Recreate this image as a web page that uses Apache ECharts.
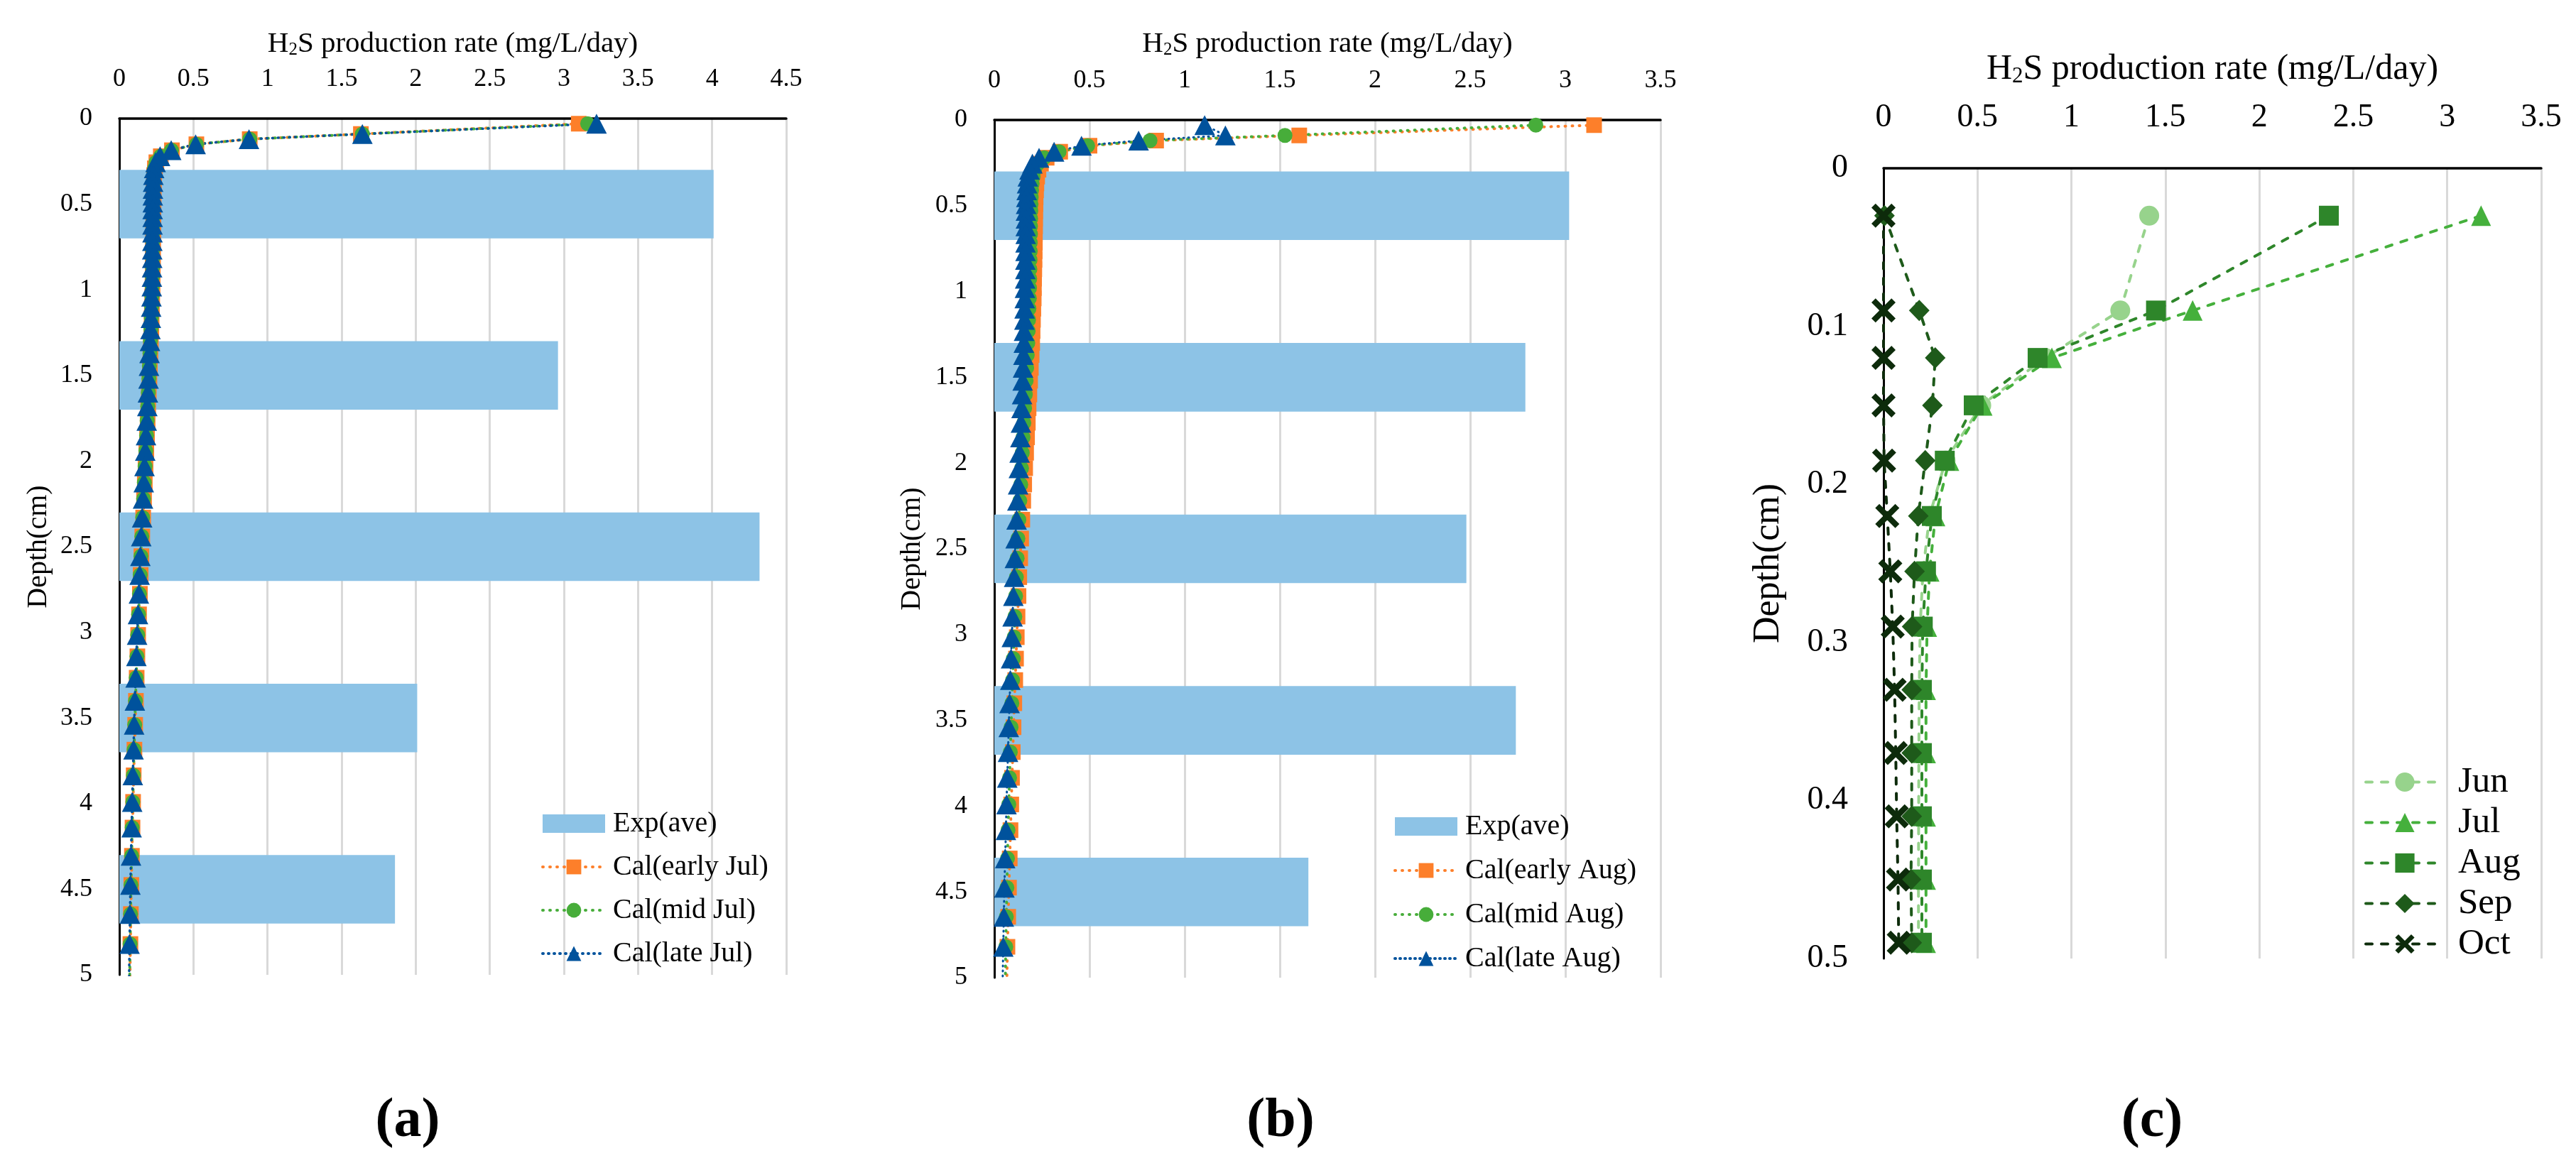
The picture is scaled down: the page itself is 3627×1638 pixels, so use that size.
<!DOCTYPE html>
<html>
<head>
<meta charset="utf-8">
<script src="https://cdn.jsdelivr.net/npm/echarts@6/dist/echarts.min.js"></script>
<style>
html,body{margin:0;padding:0;background:#fff;}
#chart{width:3627px;height:1638px;}
</style>
</head>
<body>
<div id="chart"></div>
<script>
// ---------- data ----------
const X_TICKS_A = [0, 4.5, 0.5];   // min, max, interval
const X_TICKS_BC = [0, 3.5, 0.5];
const EXP_DEPTH = ['0.5', '1.5', '2.5', '3.5', '4.5'];
const EXP_A = [4.01, 2.96, 4.32, 2.01, 1.86];
const EXP_B = [3.02, 2.79, 2.48, 2.74, 1.65];

const DEPTH_AB = [0.03, 0.09, 0.12, 0.15, 0.185, 0.22, 0.255, 0.29, 0.33, 0.37,
  0.41, 0.45, 0.49, 0.53, 0.575, 0.62, 0.665, 0.715, 0.765, 0.815,
  0.87, 0.925, 0.98, 1.04, 1.1, 1.165, 1.23, 1.3, 1.37, 1.445,
  1.52, 1.6, 1.68, 1.765, 1.85, 1.94, 2.03, 2.125, 2.22, 2.33,
  2.44, 2.555, 2.665, 2.775, 2.895, 3.015, 3.14, 3.265, 3.4, 3.54,
  3.685, 3.835, 3.99, 4.14, 4.305, 4.475, 4.645, 4.82, 5.01];

const JUL_EARLY = [3.10, 1.63, 0.88, 0.52, 0.355, 0.28, 0.25, 0.24, 0.235, 0.233,
  0.232, 0.231, 0.231, 0.23, 0.23, 0.229, 0.229, 0.228, 0.227, 0.227,
  0.226, 0.225, 0.224, 0.222, 0.22, 0.218, 0.216, 0.213, 0.21, 0.206,
  0.203, 0.199, 0.195, 0.191, 0.187, 0.182, 0.177, 0.172, 0.167, 0.161,
  0.155, 0.149, 0.144, 0.139, 0.133, 0.127, 0.122, 0.117, 0.112, 0.107,
  0.102, 0.097, 0.093, 0.089, 0.085, 0.081, 0.078, 0.075, 0.072];
const JUL_MID = [3.16, 1.64, 0.88, 0.52, 0.352, 0.278, 0.248, 0.238, 0.233, 0.231,
  0.23, 0.229, 0.229, 0.228, 0.228, 0.227, 0.227, 0.226, 0.225, 0.225,
  0.224, 0.223, 0.222, 0.22, 0.218, 0.216, 0.213, 0.21, 0.207, 0.203,
  0.2, 0.196, 0.192, 0.188, 0.184, 0.179, 0.174, 0.169, 0.164, 0.158,
  0.152, 0.146, 0.141, 0.136, 0.13, 0.124, 0.119, 0.114, 0.109, 0.104,
  0.1, 0.095, 0.091, 0.087, 0.083, 0.079, 0.076, 0.073, 0.07];
const JUL_LATE = [3.22, 1.64, 0.875, 0.515, 0.35, 0.275, 0.245, 0.235, 0.23, 0.228,
  0.227, 0.226, 0.226, 0.225, 0.225, 0.224, 0.224, 0.223, 0.222, 0.222,
  0.221, 0.22, 0.219, 0.217, 0.215, 0.213, 0.21, 0.207, 0.204, 0.2,
  0.197, 0.193, 0.189, 0.185, 0.18, 0.175, 0.17, 0.165, 0.16, 0.154,
  0.148, 0.142, 0.137, 0.132, 0.126, 0.12, 0.115, 0.11, 0.105, 0.1,
  0.096, 0.091, 0.087, 0.083, 0.079, 0.075, 0.072, 0.069, 0.066];

const AUG_EARLY = [3.151, 1.602, 0.85, 0.5, 0.346, 0.275, 0.245, 0.232, 0.225, 0.221,
  0.219, 0.217, 0.216, 0.215, 0.214, 0.214, 0.213, 0.213, 0.212, 0.211,
  0.21, 0.209, 0.208, 0.207, 0.205, 0.203, 0.201, 0.199, 0.196, 0.192,
  0.188, 0.184, 0.18, 0.176, 0.172, 0.167, 0.162, 0.157, 0.152, 0.147,
  0.141, 0.136, 0.131, 0.127, 0.122, 0.118, 0.114, 0.11, 0.105, 0.101,
  0.097, 0.093, 0.089, 0.085, 0.081, 0.077, 0.073, 0.069, 0.066];
const AUG_MID = [2.845, 1.527, 0.818, 0.49, 0.34, 0.262, 0.228, 0.212, 0.204, 0.199,
  0.196, 0.194, 0.193, 0.192, 0.191, 0.19, 0.19, 0.189, 0.189, 0.188,
  0.187, 0.186, 0.185, 0.184, 0.182, 0.18, 0.178, 0.176, 0.173, 0.17,
  0.167, 0.163, 0.159, 0.155, 0.151, 0.147, 0.143, 0.139, 0.134, 0.129,
  0.124, 0.12, 0.116, 0.112, 0.108, 0.104, 0.1, 0.096, 0.092, 0.088,
  0.084, 0.08, 0.076, 0.072, 0.069, 0.066, 0.063, 0.06, 0.058];
const AUG_LATE = [1.105, 1.214, 0.758, 0.458, 0.314, 0.235, 0.2, 0.185, 0.176, 0.172,
  0.17, 0.168, 0.167, 0.166, 0.166, 0.165, 0.165, 0.164, 0.164, 0.163,
  0.163, 0.162, 0.161, 0.16, 0.159, 0.158, 0.156, 0.155, 0.153, 0.151,
  0.149, 0.146, 0.143, 0.14, 0.137, 0.133, 0.129, 0.125, 0.121, 0.117,
  0.112, 0.108, 0.104, 0.1, 0.096, 0.092, 0.088, 0.084, 0.08, 0.076,
  0.072, 0.068, 0.064, 0.061, 0.057, 0.053, 0.05, 0.047, 0.044];

const DEPTH_C = [0.03, 0.09, 0.12, 0.15, 0.185, 0.22, 0.255, 0.29, 0.33, 0.37, 0.41, 0.45, 0.49];
const C_JUN = [1.414, 1.26, 0.86, 0.52, 0.33, 0.245, 0.21, 0.195, 0.19, 0.188, 0.187, 0.186, 0.186];
const C_JUL = [3.18, 1.645, 0.896, 0.527, 0.35, 0.276, 0.245, 0.232, 0.226, 0.226, 0.226, 0.226, 0.226];
const C_AUG = [2.37, 1.45, 0.82, 0.48, 0.326, 0.257, 0.226, 0.209, 0.204, 0.204, 0.204, 0.204, 0.204];
const C_SEP = [0.005, 0.19, 0.275, 0.26, 0.222, 0.185, 0.165, 0.152, 0.15, 0.15, 0.15, 0.146, 0.15];
const C_OCT = [0, 0, 0, 0, 0.003, 0.02, 0.036, 0.049, 0.059, 0.065, 0.07, 0.077, 0.081];

const NAMES_A = ['Exp(ave)', 'Cal(early Jul)', 'Cal(mid Jul)', 'Cal(late Jul)'];
const NAMES_B = ['Exp(ave)', 'Cal(early Aug)', 'Cal(mid Aug)', 'Cal(late Aug)'];
const NAMES_C = ['Jun', 'Jul', 'Aug', 'Sep', 'Oct'];
const X_TITLE = 'H{sub|2}S production rate (mg/L/day)';
const Y_TITLE = 'Depth(cm)';
const PANEL_LABELS = ['(a)', '(b)', '(c)'];

// ---------- styling ----------
const FONT = 'Liberation Serif';
const C_BAR = '#8dc3e6', C_OR = '#fd7f2a', C_GR = '#47ad3a', C_BL = '#00529c';
const GREENS = ['#97d38c', '#45b03c', '#2e862a', '#1e5a1a', '#0d2b0b'];
const XMARK = 'path://M0,17 L17,0 L50,33 L83,0 L100,17 L67,50 L100,83 L83,100 L50,67 L17,100 L0,83 L33,50 Z';

function pairs(xs, ys) { return xs.map((v, i) => [v, ys[i]]); }

function xAxisCfg(grid, ticks, fs, margin, nfs, ngap) {
  return {
    gridIndex: grid, type: 'value', position: 'top',
    min: ticks[0], max: ticks[1], interval: ticks[2],
    axisLine: { show: true, onZero: false, lineStyle: { color: '#000', width: 3.5 } },
    axisTick: { show: false },
    splitLine: { show: true, lineStyle: { color: '#d9d9d9', width: 3 } },
    axisLabel: { fontFamily: FONT, fontSize: fs, color: '#000', margin: margin },
    name: X_TITLE, nameLocation: 'middle', nameGap: ngap,
    nameTextStyle: { fontFamily: FONT, fontSize: nfs, color: '#000',
      rich: { sub: { fontFamily: FONT, fontSize: Math.round(nfs * 0.62), color: '#000', verticalAlign: 'bottom', padding: [0, 0, 0, 0] } } }
  };
}
function yAxisCfg(grid, max, interval, fs, margin, nfs, ngap) {
  return {
    gridIndex: grid, type: 'value', inverse: true, min: 0, max: max, interval: interval,
    axisLine: { show: true, onZero: false, lineStyle: { color: '#000', width: 3 } },
    axisTick: { show: false }, splitLine: { show: false },
    axisLabel: { fontFamily: FONT, fontSize: fs, color: '#000', margin: margin },
    name: Y_TITLE, nameLocation: 'middle', nameGap: ngap, nameRotate: 90,
    nameTextStyle: { fontFamily: FONT, fontSize: nfs, color: '#000' }
  };
}
function catAxis(grid) {
  return { gridIndex: grid, type: 'category', inverse: true, data: EXP_DEPTH, show: false, boundaryGap: true };
}
function dotted(name, xi, yi, vals, depth, color, symbol, size, w, dash) {
  return {
    name: name, type: 'line', xAxisIndex: xi, yAxisIndex: yi, data: pairs(vals, depth),
    symbol: symbol, symbolSize: size, showAllSymbol: true, z: 3,
    itemStyle: { color: color },
    lineStyle: { color: color, width: w, type: dash, cap: 'round' },
    emphasis: { disabled: true }
  };
}
function dashed(name, vals, color, symbol, size) {
  return {
    name: name, type: 'line', xAxisIndex: 2, yAxisIndex: 4, data: pairs(vals, DEPTH_C),
    symbol: symbol, symbolSize: size, showAllSymbol: true, z: 3,
    itemStyle: { color: color },
    lineStyle: { color: color, width: 4, type: [9, 13], cap: 'round' },
    emphasis: { disabled: true }
  };
}
function legendCfg(names, left, top, fs, iw, ih, gap, pad, lw) {
  return {
    orient: 'vertical', left: left, top: top, padding: 0, itemGap: gap,
    itemWidth: iw, itemHeight: ih, selectedMode: false,
    lineStyle: { width: lw, type: 'inherit', color: 'inherit', cap: 'round' },
    data: names.map(n => (n === 'Exp(ave)' ? { name: n, icon: 'rect' } : n)),
    textStyle: { fontFamily: FONT, fontSize: fs, color: '#000', lineHeight: fs, padding: [0, 0, 0, pad] }
  };
}

const option = {
  animation: false,
  backgroundColor: '#fff',
  grid: [
    { left: 168, top: 167, width: 939, height: 1206 },
    { left: 1400, top: 169, width: 938, height: 1208 },
    { left: 2652, top: 237, width: 926, height: 1113 }
  ],
  xAxis: [
    xAxisCfg(0, X_TICKS_A, 36, 37, 41, 84),
    xAxisCfg(1, X_TICKS_BC, 36, 37, 41, 86),
    xAxisCfg(2, X_TICKS_BC, 46, 48, 50, 114)
  ],
  yAxis: [
    yAxisCfg(0, 5, 0.5, 36, 38, 40, 94),
    catAxis(0),
    yAxisCfg(1, 5, 0.5, 36, 38, 40, 96),
    catAxis(1),
    yAxisCfg(2, 0.5, 0.1, 46, 50, 52, 136)
  ],
  legend: [
    legendCfg(NAMES_A, 762, 1140, 40, 88, 26, 21, 6, 4),
    legendCfg(NAMES_B, 1962, 1144, 40, 88, 26, 22, 6, 4),
    legendCfg(NAMES_C, 3329, 1076, 51, 110, 34, 6, 15, 4)
  ],
  series: [
    { name: NAMES_A[0], type: 'bar', xAxisIndex: 0, yAxisIndex: 1, data: EXP_A, barWidth: '40%', z: 1,
      itemStyle: { color: C_BAR }, emphasis: { disabled: true } },
    dotted(NAMES_A[1], 0, 0, JUL_EARLY, DEPTH_AB, C_OR, 'rect', 22, 4, [1, 9]),
    dotted(NAMES_A[2], 0, 0, JUL_MID, DEPTH_AB, C_GR, 'circle', 21, 4, [1, 9]),
    dotted(NAMES_A[3], 0, 0, JUL_LATE, DEPTH_AB, C_BL, 'triangle', [29, 28], 3.5, [1, 7]),
    { name: NAMES_B[0], type: 'bar', xAxisIndex: 1, yAxisIndex: 3, data: EXP_B, barWidth: '40%', z: 1,
      itemStyle: { color: C_BAR }, emphasis: { disabled: true } },
    dotted(NAMES_B[1], 1, 2, AUG_EARLY, DEPTH_AB, C_OR, 'rect', 22, 4, [1, 9]),
    dotted(NAMES_B[2], 1, 2, AUG_MID, DEPTH_AB, C_GR, 'circle', 21, 4, [1, 9]),
    dotted(NAMES_B[3], 1, 2, AUG_LATE, DEPTH_AB, C_BL, 'triangle', [29, 28], 3, [1, 6]),
    dashed(NAMES_C[0], C_JUN, GREENS[0], 'circle', 28),
    dashed(NAMES_C[1], C_JUL, GREENS[1], 'triangle', [28, 29]),
    dashed(NAMES_C[2], C_AUG, GREENS[2], 'rect', 28),
    dashed(NAMES_C[3], C_SEP, GREENS[3], 'diamond', [29, 30]),
    dashed(NAMES_C[4], C_OCT, GREENS[4], XMARK, 34)
  ],
  graphic: [
    { type: 'text', x: 574, y: 1580, style: { text: PANEL_LABELS[0], font: 'bold 78px "Liberation Serif"', fill: '#000', align: 'center', verticalAlign: 'middle' } },
    { type: 'text', x: 1803, y: 1580, style: { text: PANEL_LABELS[1], font: 'bold 78px "Liberation Serif"', fill: '#000', align: 'center', verticalAlign: 'middle' } },
    { type: 'text', x: 3030, y: 1580, style: { text: PANEL_LABELS[2], font: 'bold 78px "Liberation Serif"', fill: '#000', align: 'center', verticalAlign: 'middle' } }
  ]
};

const chart = echarts.init(document.getElementById('chart'), null, { renderer: 'canvas' });
chart.setOption(option);
</script>
</body>
</html>
